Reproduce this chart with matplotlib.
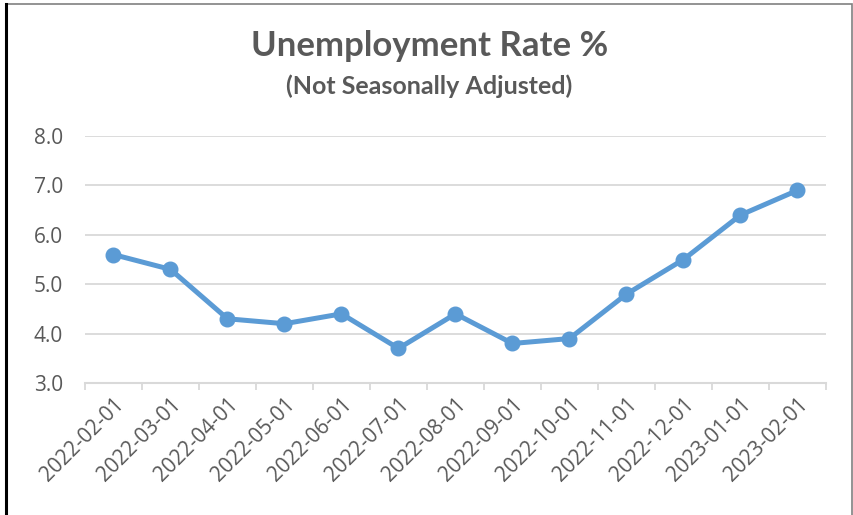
import matplotlib.pyplot as plt
from matplotlib.patches import Rectangle
from matplotlib.lines import Line2D

# monthly unemployment rate, not seasonally adjusted
months = ["2022-02-01", "2022-03-01", "2022-04-01", "2022-05-01", "2022-06-01",
          "2022-07-01", "2022-08-01", "2022-09-01", "2022-10-01", "2022-11-01",
          "2022-12-01", "2023-01-01", "2023-02-01"]
rate = [5.6, 5.3, 4.3, 4.2, 4.4, 3.7, 4.4, 3.8, 3.9, 4.8, 5.5, 6.4, 6.9]
y_ticks = [3.0, 4.0, 5.0, 6.0, 7.0, 8.0]

text_gray = "#595959"
grid_gray = "#D9D9D9"
line_blue = "#5B9BD5"

plt.rcParams["font.family"] = ["Lato", "DejaVu Sans"]
tick_font = ["Open Sans", "DejaVu Sans"]

fig = plt.figure(figsize=(8.54, 5.15), dpi=100)
ax = fig.add_axes([85 / 854, 1 - 383 / 515, 741 / 854, (383 - 136) / 515])

x = list(range(len(months)))
ax.plot(x, rate, color=line_blue, linewidth=3.6, marker="o", markersize=10.5,
        solid_joinstyle="round", solid_capstyle="round", zorder=3)

ax.set_xlim(-0.5, len(months) - 0.5)
ax.set_ylim(3.0, 8.0)
ax.set_yticks(y_ticks)
ax.set_yticklabels([f"{v:.1f}" for v in y_ticks], color=text_gray, fontsize=15,
                   family=tick_font)
ax.yaxis.grid(True, color=grid_gray, linewidth=1.3)
ax.set_axisbelow(True)

# category labels in the middle, tick marks on the boundaries
ax.set_xticks(x)
ax.set_xticklabels(months, rotation=45, ha="right", rotation_mode="anchor",
                   color=text_gray, fontsize=15, family=tick_font)
ax.set_xticks([i - 0.5 for i in range(len(months) + 1)], minor=True)
ax.tick_params(axis="x", which="major", length=0, pad=8)
ax.tick_params(axis="x", which="minor", length=5, color=grid_gray, width=1.3)
ax.tick_params(axis="y", length=0, pad=16)

for side in ["top", "right", "left"]:
    ax.spines[side].set_visible(False)
ax.spines["bottom"].set_color(grid_gray)
ax.spines["bottom"].set_linewidth(1.5)

fig.text(0.503, 1 - 46 / 515, "Unemployment Rate %", ha="center", va="center",
         fontsize=25, fontweight="bold", color=text_gray)
fig.text(0.503, 1 - 86 / 515, "(Not Seasonally Adjusted)", ha="center", va="center",
         fontsize=18, fontweight="bold", color=text_gray)

# chart border
fig.patches.append(Rectangle((6 / 854, -0.05), 846 / 854, 1.05 - 4 / 515,
                             transform=fig.transFigure, fill=False,
                             edgecolor="#808080", linewidth=1.2))
fig.lines.append(Line2D([6 / 854, 6 / 854], [0, 1 - 4 / 515],
                        transform=fig.transFigure, color="black", linewidth=2.2))

fig.savefig("out.png", dpi=100)
